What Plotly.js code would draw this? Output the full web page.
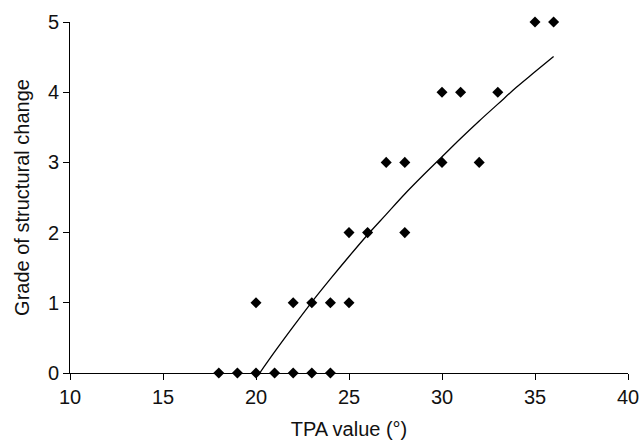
<!DOCTYPE html>
<html>
<head>
<meta charset="utf-8">
<script src="https://cdn.plot.ly/plotly-3.0.1.min.js"></script>
<style>html,body{margin:0;padding:0;background:#fff;}#chart{width:643px;height:441px;}</style>
</head>
<body>
<div id="chart"></div>
<script>
// Observed data points (TPA value, grade)
const tpaValues = [18, 19, 20, 21, 22, 23, 24, 20, 22, 23, 24, 25, 25, 26, 28, 27, 28, 30, 32, 30, 31, 33, 35, 36];
const grades    = [0, 0, 0, 0, 0, 0, 0, 1, 1, 1, 1, 1, 2, 2, 2, 3, 3, 3, 3, 4, 4, 4, 5, 5];

// Trend curve
const trendX = [20.2, 21, 22, 23, 24, 25, 26, 27, 28, 29, 30, 31, 32, 33, 34, 35, 36];
const trendY = [0, 0.30, 0.66, 1.01, 1.34, 1.66, 1.97, 2.26, 2.55, 2.82, 3.08, 3.34, 3.59, 3.83, 4.07, 4.29, 4.51];

const xTicks = [10, 15, 20, 25, 30, 35, 40];
const yTicks = [0, 1, 2, 3, 4, 5];

const font = {family: 'Liberation Sans, Arial, sans-serif', size: 20, color: '#111'};

const traces = [
  {x: trendX, y: trendY, mode: 'lines', type: 'scatter',
   line: {color: '#000', width: 1.3, shape: 'spline'}, hoverinfo: 'skip', cliponaxis: false},
  {x: tpaValues, y: grades, mode: 'markers', type: 'scatter',
   marker: {symbol: 'diamond', size: 8.5, color: '#000'}, cliponaxis: false}
];

const layout = {
  width: 643, height: 441,
  margin: {l: 70, r: 15, t: 22, b: 68},
  paper_bgcolor: '#fff', plot_bgcolor: '#fff',
  showlegend: false,
  font: font,
  xaxis: {
    range: [10, 40], tickvals: xTicks, ticktext: xTicks.map(String),
    showgrid: false, zeroline: false, showline: true, linecolor: '#000', linewidth: 1,
    ticks: 'outside', ticklen: 6, tickcolor: '#000', tickwidth: 1,
    tickfont: font, automargin: false,
    title: {text: 'TPA value (°)', font: font, standoff: 14}
  },
  yaxis: {
    range: [0, 5], tickvals: yTicks, ticktext: yTicks.map(String),
    showgrid: false, zeroline: false, showline: true, linecolor: '#000', linewidth: 1,
    ticks: 'outside', ticklen: 6, tickcolor: '#000', tickwidth: 1,
    tickfont: font, automargin: false,
    title: {text: 'Grade of structural change', font: font, standoff: 12}
  }
};

Plotly.newPlot('chart', traces, layout, {displayModeBar: false, staticPlot: true});
</script>
</body>
</html>
